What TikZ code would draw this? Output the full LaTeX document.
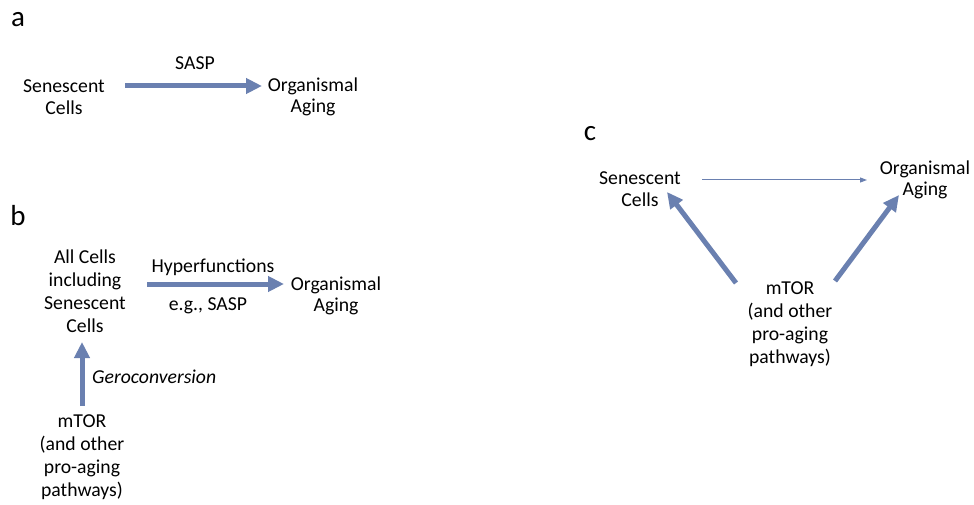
\documentclass[tikz,border=0pt]{standalone}
\usepackage{fontspec}
\setmainfont{Carlito}
\usetikzlibrary{arrows.meta}
\definecolor{arrowblue}{RGB}{106,128,176}
\begin{document}
\begin{tikzpicture}[x=1pt,y=-1pt,
  lbl/.style={inner sep=0pt,align=center,font=\fontsize{19.7}{21.5}\selectfont},
  lblb/.style={inner sep=0pt,align=center,font=\fontsize{19.7}{23}\selectfont},
  panel/.style={inner sep=0pt,font=\fontsize{29}{30}\selectfont},
  thick arrow/.style={draw=arrowblue,line width=5pt,-{Triangle[length=16pt,width=15pt]},shorten >=0pt},
  thin arrow/.style={draw=arrowblue,line width=1pt,-{Triangle[length=7pt,width=5pt]}}]
\useasboundingbox (0,0) rectangle (974,505);
% panel a
\node[panel] (pa) at (18,20) {a};
\node[lbl] (a1) at (64,97) {Senescent\\Cells};
\node[lbl] (a2) at (313,97) {Organismal\\Aging};
\node[lbl] (asasp) at (195,63) {SASP};
\coordinate (a1e) at (125,86);
\coordinate (a2e) at (262,86);
\draw[thick arrow] (a1e) -- (a2e);
% panel b
\node[panel] (pb) at (18,216) {b};
\node[lblb] (b1) at (85,291) {All Cells\\including\\Senescent\\Cells};
\node[lbl] (bhyp) at (213,267) {Hyperfunctions};
\node[lbl] (beg) at (208,306) {e.g., SASP};
\node[lbl] (b2) at (336,296) {Organismal\\Aging};
\node[lblb] (b3) at (82,457) {mTOR\\(and other\\pro-aging\\pathways)};
\node[lbl,anchor=west,font=\fontsize{19.7}{21}\selectfont\itshape] (bger) at (92,377) {Geroconversion};
\coordinate (b1s) at (147,284);
\coordinate (b1e) at (284,284);
\draw[thick arrow] (b1s) -- (b1e);
\coordinate (b3s) at (82,406);
\coordinate (b3e) at (82,342);
\draw[thick arrow] (b3s) -- (b3e);
% panel c
\node[panel] (pc) at (590,134) {c};
\node[lbl] (c1) at (640,189) {Senescent\\Cells};
\node[lbl] (c2) at (925,180) {Organismal\\Aging};
\node[lblb] (c3) at (790,324) {mTOR\\(and other\\pro-aging\\pathways)};
\coordinate (c1s) at (702,180);
\coordinate (c1e) at (867,180);
\draw[thin arrow] (c1s) -- (c1e);
\coordinate (c3l) at (736,283);
\coordinate (c3le) at (667,192);
\draw[thick arrow] (c3l) -- (c3le);
\coordinate (c3r) at (835,281);
\coordinate (c3re) at (899,195);
\draw[thick arrow] (c3r) -- (c3re);
\end{tikzpicture}
\end{document}
